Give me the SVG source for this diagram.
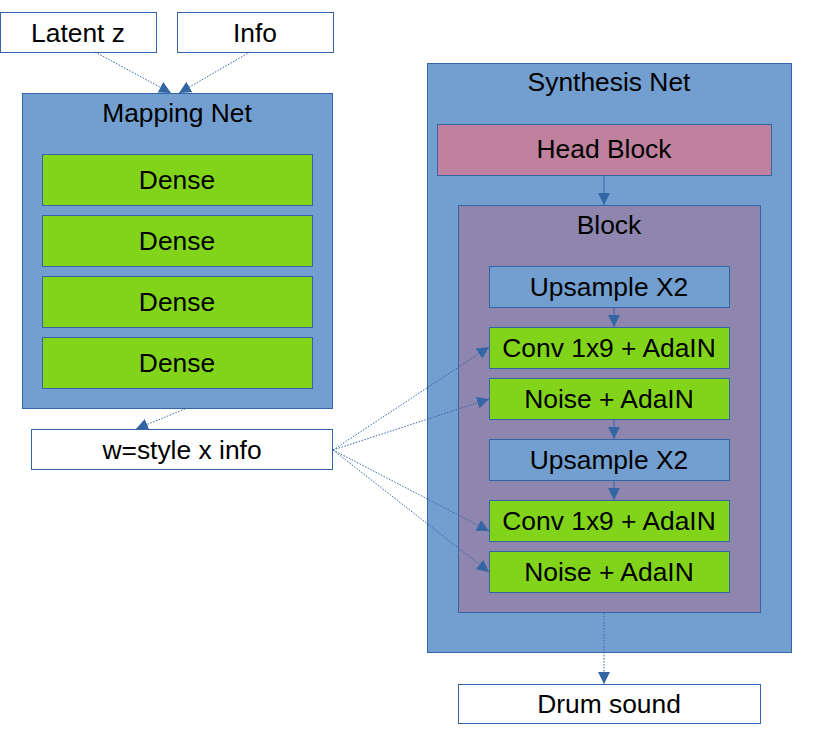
<svg xmlns="http://www.w3.org/2000/svg" width="816" height="734" viewBox="0 0 816 734">
<style>
text{font-family:"Liberation Sans",Arial,sans-serif;font-size:26.4px;fill:#000;text-anchor:middle}
.w{fill:#fff;stroke:#3465a4;stroke-width:1}
.b{fill:#729fcf;stroke:#3465a4;stroke-width:1}
.g{fill:#81d41a;stroke:#3465a4;stroke-width:1}
.h{fill:#bf819e;stroke:#3465a4;stroke-width:1}
.p{fill:#8e86ae;stroke:#3465a4;stroke-width:1}
.c{fill:none;stroke:#3465a4;stroke-width:1}
.d{stroke-dasharray:1.5 1.5}
</style>
<defs>
<marker id="ah" viewBox="0 0 12 12" refX="12" refY="6" markerWidth="12" markerHeight="12" markerUnits="userSpaceOnUse" orient="auto">
<path d="M0,0 L12,6 L0,12 z" fill="#3465a4"/>
</marker>
</defs>
<g id="latent"><rect class="w" x="0.5" y="12.5" width="156" height="40"/><text x="78" y="42">Latent z</text></g>
<g id="info"><rect class="w" x="177.5" y="12.5" width="156" height="40"/><text x="255" y="42">Info</text></g>
<g id="mapping">
<rect class="b" x="22.5" y="93.5" width="310" height="315"/><text x="177" y="122">Mapping Net</text>
<g id="dense1"><rect class="g" x="42.5" y="154.5" width="270" height="51"/><text x="177" y="189">Dense</text></g>
<g id="dense2"><rect class="g" x="42.5" y="215.5" width="270" height="51"/><text x="177" y="250">Dense</text></g>
<g id="dense3"><rect class="g" x="42.5" y="276.5" width="270" height="51"/><text x="177" y="311">Dense</text></g>
<g id="dense4"><rect class="g" x="42.5" y="337.5" width="270" height="51"/><text x="177" y="372">Dense</text></g>
</g>
<g id="wstyle"><rect class="w" x="31.5" y="429.5" width="301" height="40"/><text x="182" y="459">w=style x info</text></g>
<g id="synthesis">
<rect class="b" x="427.5" y="63.5" width="364" height="589"/><text x="609" y="91">Synthesis Net</text>
<g id="head"><rect class="h" x="437.5" y="124.5" width="334" height="51"/><text x="604" y="158">Head Block</text></g>
<g id="block">
<rect class="p" x="458.5" y="205.5" width="302" height="407"/><text x="609" y="234">Block</text>
<g id="up1"><rect class="b" x="489.5" y="266.5" width="240" height="41"/><text x="609" y="296">Upsample X2</text></g>
<g id="conv1"><rect class="g" x="489.5" y="327.5" width="240" height="41"/><text x="609" y="357">Conv 1x9 + AdaIN</text></g>
<g id="noise1"><rect class="g" x="489.5" y="378.5" width="240" height="41"/><text x="609" y="408">Noise + AdaIN</text></g>
<g id="up2"><rect class="b" x="489.5" y="439.5" width="240" height="41"/><text x="609" y="469">Upsample X2</text></g>
<g id="conv2"><rect class="g" x="489.5" y="500.5" width="240" height="41"/><text x="609" y="530">Conv 1x9 + AdaIN</text></g>
<g id="noise2"><rect class="g" x="489.5" y="551.5" width="240" height="41"/><text x="609" y="581">Noise + AdaIN</text></g>
</g>
</g>
<g id="drum"><rect class="w" x="458.5" y="684.5" width="302" height="39"/><text x="609" y="713">Drum sound</text></g>
<g id="connectors">
<path class="c d" d="M95,52 L171,93" marker-end="url(#ah)"/>
<path class="c d" d="M250,52 L179,93" marker-end="url(#ah)"/>
<path class="c d" d="M185,409 L136,429" marker-end="url(#ah)"/>
<path class="c" d="M604,176 L604,205" marker-end="url(#ah)"/>
<path class="c" d="M614,308 L614,327" marker-end="url(#ah)"/>
<path class="c" d="M614,420 L614,439" marker-end="url(#ah)"/>
<path class="c" d="M614,481 L614,500" marker-end="url(#ah)"/>
<path class="c d" d="M333,450 L489,347" marker-end="url(#ah)"/>
<path class="c d" d="M333,450 L489,399" marker-end="url(#ah)"/>
<path class="c d" d="M333,450 L489,531" marker-end="url(#ah)"/>
<path class="c d" d="M333,450 L489,572" marker-end="url(#ah)"/>
<path class="c d" d="M604,613 L604,684" marker-end="url(#ah)"/>
</g>
</svg>
